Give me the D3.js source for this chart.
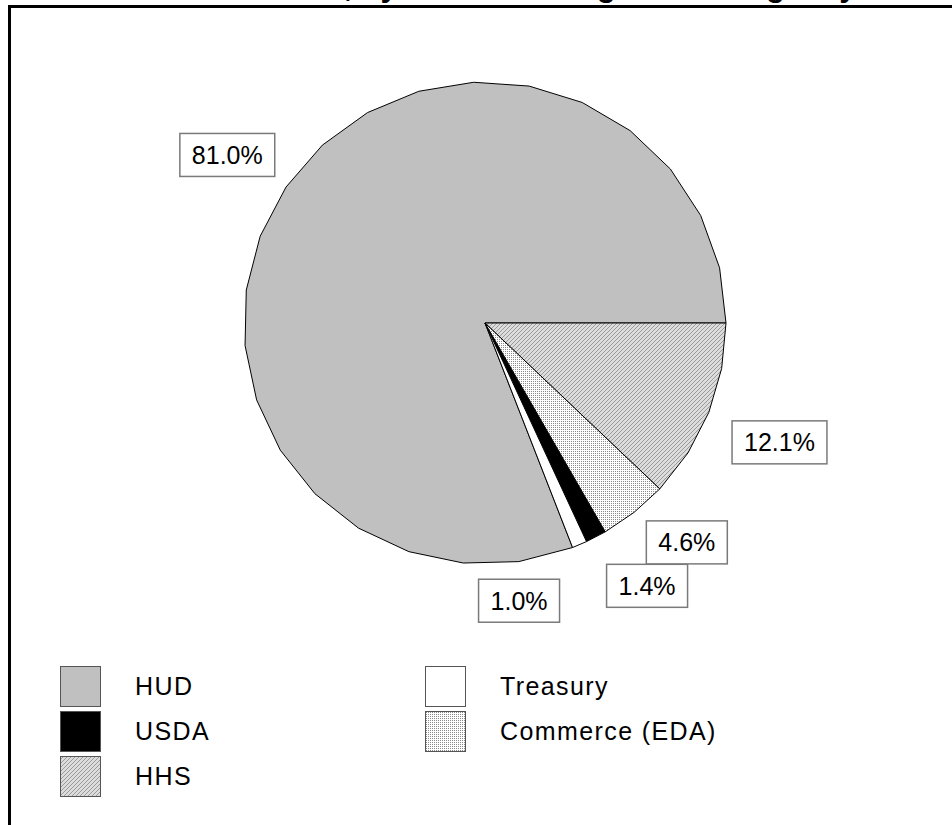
<!DOCTYPE html>
<html>
<head>
<meta charset="utf-8">
<script src="https://cdn.jsdelivr.net/npm/d3@7"></script>
<style>
  html, body { margin: 0; padding: 0; background: #ffffff; }
  svg { display: block; }
  text { font-family: "Liberation Sans", Arial, sans-serif; }
</style>
</head>
<body>
<svg id="chart" width="952" height="825"></svg>
<script>
// ---- data ----
const titleText = "Total Allocations, by Administering Federal Agency";
const categories = ["HUD", "USDA", "HHS", "Treasury", "Commerce (EDA)"];
const shares = [81.0, 1.4, 12.1, 1.0, 4.6];
const shareLabels = ["81.0%", "1.4%", "12.1%", "1.0%", "4.6%"];
// drawing order of slices, clockwise starting at 3 o'clock
const pieOrder = ["HHS", "Commerce (EDA)", "USDA", "Treasury", "HUD"];

// ---- layout / style ----
const W = 952, H = 825;
const cx = 485, cy = 323, R = 241;
const labelRadius = 1.28;
const labelNudge = { "HUD": [-3, 6], "HHS": [8, 5], "Commerce (EDA)": [11, -23], "USDA": [20, -11], "Treasury": [-87, -6] };
const fills = { "HUD": "#c0c0c0", "USDA": "#000000", "HHS": "url(#hatch)", "Treasury": "#ffffff", "Commerce (EDA)": "url(#dots)" };

const svg = d3.select("#chart");
const defs = svg.append("defs");
const hatch = defs.append("pattern").attr("id", "hatch").attr("patternUnits", "userSpaceOnUse")
  .attr("width", 4).attr("height", 4);
hatch.append("rect").attr("width", 4).attr("height", 4).attr("fill", "#dcdcdc");
hatch.append("path").attr("d", "M-1,1 l2,-2 M0,4 l4,-4 M3,5 l2,-2")
  .attr("stroke", "#9a9a9a").attr("stroke-width", 1);
const dots = defs.append("pattern").attr("id", "dots").attr("patternUnits", "userSpaceOnUse")
  .attr("width", 2).attr("height", 2);
dots.append("rect").attr("width", 2).attr("height", 2).attr("fill", "#ffffff");
dots.append("rect").attr("width", 1).attr("height", 1).attr("fill", "#8a8a8a");

// frame
svg.append("rect").attr("x", 9.5).attr("y", 6.5).attr("width", 1000).attr("height", 900)
  .attr("fill", "none").attr("stroke", "#000").attr("stroke-width", 3);

// title (mostly above the visible area, as in the reference)
svg.append("text").attr("x", 476).attr("y", -4).attr("text-anchor", "middle")
  .attr("font-size", 31.3).attr("font-weight", "bold").attr("fill", "#000").text(titleText);

const data = categories.map((c, i) => ({ cat: c, v: shares[i], label: shareLabels[i] }));

const pie = d3.pie()
  .value(d => d.v)
  .sort((a, b) => pieOrder.indexOf(a.cat) - pieOrder.indexOf(b.cat))
  .startAngle(Math.PI / 2)
  .endAngle(Math.PI / 2 + 2 * Math.PI);
const arcs = pie(data);

const rScale = d3.scaleLinear().domain([0, 1]).range([0, R]);
const step = 13.5 * Math.PI / 180;
function slicePath(d) {
  const span = d.endAngle - d.startAngle;
  const n = Math.max(1, Math.ceil(span / step));
  const pts = [[0, 0]];
  for (let i = 0; i <= n; i++) {
    const a = d.startAngle + span * i / n;
    pts.push([rScale(1) * Math.sin(a), -rScale(1) * Math.cos(a)]);
  }
  return d3.line()(pts) + "Z";
}

const g = svg.append("g").attr("transform", `translate(${cx},${cy})`);
g.selectAll("path.slice").data(arcs).join("path")
  .attr("class", "slice")
  .attr("d", slicePath)
  .attr("fill", d => fills[d.data.cat])
  .attr("stroke", "#000").attr("stroke-width", 1).attr("stroke-linejoin", "round");

// labels
const labelG = g.selectAll("g.lbl").data(arcs).join("g").attr("class", "lbl")
  .attr("transform", d => {
    const a = (d.startAngle + d.endAngle) / 2;
    const nd = labelNudge[d.data.cat] || [0, 0];
    const x = rScale(labelRadius) * Math.sin(a) + nd[0];
    const y = -rScale(labelRadius) * Math.cos(a) + nd[1];
    return `translate(${x},${y})`;
  });
labelG.each(function(d) {
  const sel = d3.select(this);
  const t = sel.append("text").attr("text-anchor", "middle").attr("dy", "0.36em")
    .attr("font-size", 25).attr("fill", "#000").text(d.data.label);
  const w = t.node().getComputedTextLength() + 24;
  const h = 43;
  sel.insert("rect", "text").attr("x", -w / 2).attr("y", -h / 2).attr("width", w).attr("height", h)
    .attr("fill", "#fff").attr("stroke", "#7a7a7a").attr("stroke-width", 1.5);
});

// legend
const legendCols = [60, 425];
const legendRow0 = 666, legendRowStep = 45, swatch = 40;
const legendItems = ["HUD", "USDA", "HHS", "Treasury", "Commerce (EDA)"];
const lg = svg.append("g");
legendItems.forEach((c, i) => {
  const col = i < 3 ? 0 : 1;
  const row = i < 3 ? i : i - 3;
  const x = legendCols[col], y = legendRow0 + row * legendRowStep;
  lg.append("rect").attr("x", x + 0.5).attr("y", y + 0.5).attr("width", swatch).attr("height", swatch)
    .attr("fill", fills[c]).attr("stroke", "#555").attr("stroke-width", 1);
  lg.append("text").attr("x", x + 75).attr("y", y + 20).attr("dy", "0.36em")
    .attr("font-size", 25).attr("letter-spacing", 1.4).attr("fill", "#000").text(c);
});
</script>
</body>
</html>
